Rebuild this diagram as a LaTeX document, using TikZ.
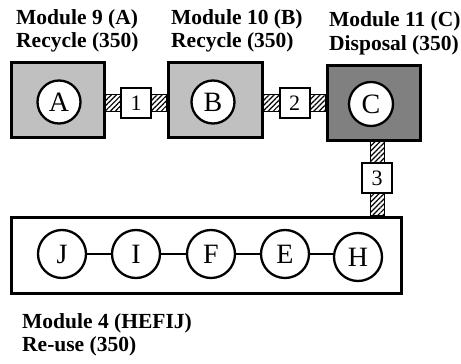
\documentclass[tikz,border=0pt]{standalone}
\usepackage{fontspec}
\setmainfont{Liberation Serif}
\usetikzlibrary{patterns.meta}

\definecolor{modlight}{RGB}{192,192,192}
\definecolor{moddark}{RGB}{128,128,128}

\tikzset{
  module/.style={draw, line width=3pt, rectangle, inner sep=0pt},
  part/.style={draw, fill=white, circle, line width=2.3pt, inner sep=0pt,
    minimum size=43pt, font=\fontsize{28}{28}\selectfont},
  joint/.style={draw, fill=white, rectangle, line width=2pt, inner sep=0pt,
    minimum width=30pt, minimum height=30pt, font=\fontsize{22}{22}\selectfont},
  hatchbar/.style={draw, line width=0.8pt, preaction={fill=white},
    pattern={Lines[angle=45,distance=3.6pt,line width=1.2pt]}},
  link/.style={line width=2.3pt},
  label/.style={anchor=base west, inner sep=0pt,
    font=\fontsize{21.5}{24}\selectfont\bfseries}
}

\begin{document}
\begin{tikzpicture}[x=1pt,y=-1pt]
  \useasboundingbox[fill=white] (0,0) rectangle (461,364);

  % module boxes
  \node[module, fill=modlight, minimum width=93pt, minimum height=75pt] (boxA) at (57.5,99.5) {};
  \node[module, fill=modlight, minimum width=94pt, minimum height=75pt] (boxB) at (215,99.5) {};
  \node[module, fill=moddark,  minimum width=93pt, minimum height=75pt] (boxC) at (373.5,102.5) {};
  \node[module, fill=white, minimum width=390pt, minimum height=76pt] (boxR) at (206,255) {};

  % connector positions
  \coordinate (j1) at (136,103);
  \coordinate (j2) at (294.5,103);
  \coordinate (j3) at (377,178);

  % hatched connector bars
  \path[hatchbar] ([yshift=-8.5pt]boxA.east |- j1) rectangle ([yshift=8.5pt]boxB.west |- j1);
  \path[hatchbar] ([yshift=-8.5pt]boxB.east |- j2) rectangle ([yshift=8.5pt]boxC.west |- j2);
  \path[hatchbar] ([xshift=-7pt]j3 |- boxC.south) rectangle ([xshift=7pt]j3 |- boxR.north);

  \node[joint] (n1) at (j1) {1};
  \node[joint] (n2) at (j2) {2};
  \node[joint] (n3) at (j3) {3};

  % parts in the upper modules
  \node[part] (pa) at (59,102) {A};
  \node[part] (pb) at (213,102) {B};
  \node[part, minimum size=44pt] (pc) at (371,104) {C};

  % parts in the re-use module
  \node[part, minimum size=48pt] (pj) at (62,254) {J};
  \node[part, minimum size=48pt] (pi) at (136,254) {I};
  \node[part, minimum size=48pt] (pf) at (211,254) {F};
  \node[part, minimum size=48pt] (pe) at (285,254) {E};
  \node[part, minimum size=48pt] (ph) at (358,257) {H};
  \draw[link] (pj) -- (pi);
  \draw[link] (pi) -- (pf);
  \draw[link] (pf) -- (pe);
  \draw[link] (pe.east) -- (ph.west |- pe.east);

  % module labels
  \node[label] (l9a) at (16,24) {Module 9 (A)};
  \node[label] (l9b) at (16,47) {Recycle (350)};
  \node[label] (l10a) at (171,24) {Module 10 (B)};
  \node[label] (l10b) at (171,47) {Recycle (350)};
  \node[label] (l11a) at (329,27) {Module 11 (C)};
  \node[label] (l11b) at (329,50) {Disposal (350)};
  \node[label] (l4a) at (22,328) {Module 4 (HEFIJ)};
  \node[label] (l4b) at (22,351) {Re-use (350)};
\end{tikzpicture}
\end{document}
